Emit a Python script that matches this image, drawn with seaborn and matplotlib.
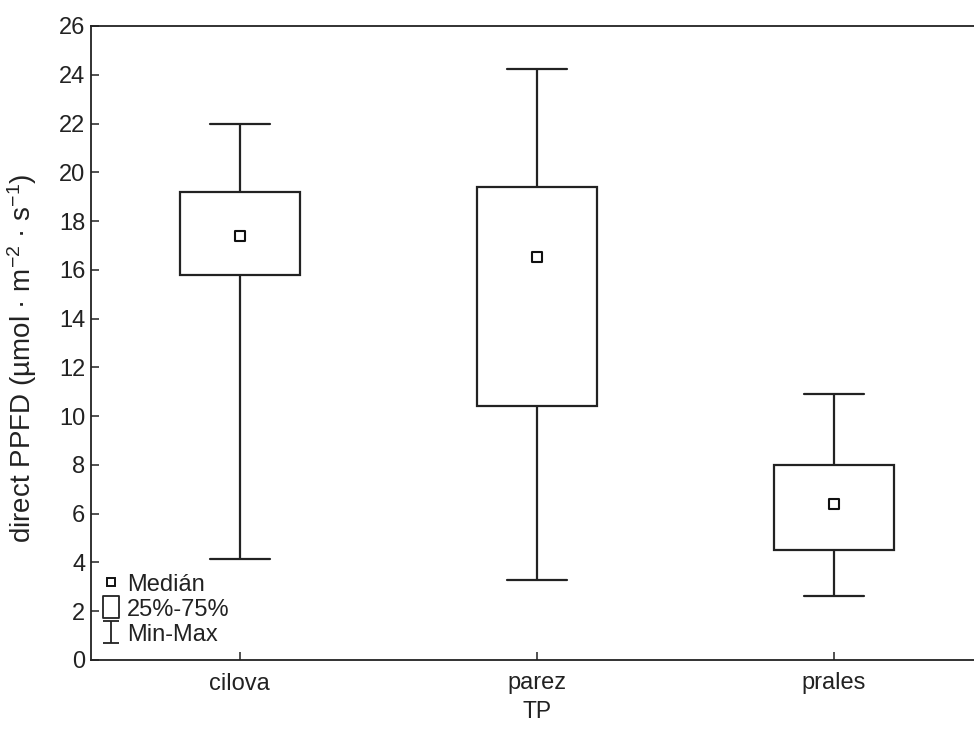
import numpy as np
import pandas as pd
import matplotlib
matplotlib.use("Agg")
import matplotlib.pyplot as plt
from matplotlib.lines import Line2D
from matplotlib.path import Path
import seaborn as sns

# ---- data ----
categories = ["cilova", "parez", "prales"]
mins = [4.15, 3.3, 2.62]
q1s = [15.8, 10.42, 4.52]
medians = [17.4, 16.53, 6.4]
q3s = [19.2, 19.4, 8.0]
maxs = [22.0, 24.22, 10.9]

y_ticks = list(range(0, 27, 2))
legend_labels = ["Medián", "25%-75%", "Min-Max"]

# five-number rows -> quantiles with linear interpolation reproduce them exactly
rows = []
for c, a, b, m, d, e in zip(categories, mins, q1s, medians, q3s, maxs):
    for v in (a, b, m, d, e):
        rows.append({"TP": c, "value": v})
df = pd.DataFrame(rows)
med_df = pd.DataFrame({"TP": categories, "value": medians})

sns.set_theme(style="ticks")
plt.rcParams["font.family"] = ["Liberation Sans", "DejaVu Sans"]
plt.rcParams["mathtext.fontset"] = "custom"
plt.rcParams["mathtext.rm"] = "Liberation Sans"
plt.rcParams["mathtext.it"] = "Liberation Sans"

fig = plt.figure(figsize=(9.74, 7.38), dpi=100)
ax = fig.add_axes([91 / 974, 78 / 738, (982.5 - 91) / 974, 634 / 738])

sns.boxplot(
    data=df, x="TP", y="value", order=categories, ax=ax,
    whis=(0, 100), width=0.404, color="white", linecolor="#222222",
    linewidth=1.6, showfliers=False, saturation=1,
    medianprops={"visible": False},
)
sns.stripplot(
    data=med_df, x="TP", y="value", order=categories, ax=ax,
    jitter=False, marker="s", size=6.5, color="white",
    edgecolor="#111111", linewidth=1.5, zorder=5,
)

ax.set_xlim(-0.5, 2.5)
ax.set_ylim(0, 26)
ax.set_yticks(y_ticks)
ax.set_yticklabels([str(t) for t in y_ticks])

for s in ["left", "bottom", "top", "right"]:
    ax.spines[s].set_color("#222222")
    ax.spines[s].set_linewidth(1.3)

ax.tick_params(axis="y", direction="in", length=6, width=1.1, colors="#222222",
               labelsize=17, pad=4, labelcolor="#222222")
ax.tick_params(axis="x", direction="in", length=6, width=1.1, colors="#222222",
               labelsize=17, pad=9, labelcolor="#222222")

ax.set_xlabel("TP", fontsize=16.5, color="#222222", labelpad=4)
ax.set_ylabel(r"direct PPFD (µmol · m$^{-2}$ · s$^{-1}$)", fontsize=20,
              color="#222222")
ax.yaxis.set_label_coords(-0.058, 0.476)

# legend handles
rect_path = Path([(-0.35, -0.5), (0.35, -0.5), (0.35, 0.5), (-0.35, 0.5), (-0.35, -0.5)],
                 [Path.MOVETO, Path.LINETO, Path.LINETO, Path.LINETO, Path.CLOSEPOLY])
ibeam_path = Path([(-0.35, -0.5), (0.35, -0.5), (0, -0.5), (0, 0.5), (-0.35, 0.5), (0.35, 0.5)],
                  [Path.MOVETO, Path.LINETO, Path.MOVETO, Path.LINETO, Path.MOVETO, Path.LINETO])
handles = [
    Line2D([], [], linestyle="none", marker="s", markersize=6, markerfacecolor="white",
           markeredgecolor="#111111", markeredgewidth=1.4),
    Line2D([], [], linestyle="none", marker=rect_path, markersize=16, markerfacecolor="white",
           markeredgecolor="#222222", markeredgewidth=1.3),
    Line2D([], [], linestyle="none", marker=ibeam_path, markersize=16, markerfacecolor="none",
           markeredgecolor="#222222", markeredgewidth=1.3),
]
ax.legend(handles, legend_labels, loc="lower left",
          bbox_to_anchor=(-0.003, 0.002), frameon=False, fontsize=17,
          handlelength=0.8, handletextpad=0.28, labelspacing=0.13,
          borderpad=0.4, borderaxespad=0.15, labelcolor="#222222")

fig.savefig("out.png", dpi=100)
